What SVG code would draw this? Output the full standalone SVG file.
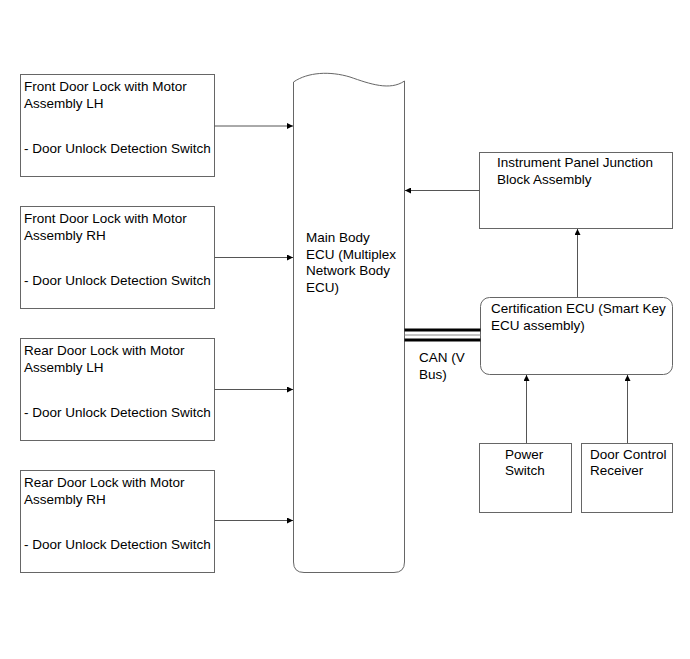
<svg xmlns="http://www.w3.org/2000/svg" width="690" height="659" viewBox="0 0 690 659">
<style>
.box{fill:#fff;stroke:#666;stroke-width:1}
.t{font-family:"Liberation Sans",Arial,sans-serif;font-size:13.5px;fill:#000}
.ln{stroke:#555;stroke-width:1;fill:none}
</style>
<defs>
<marker id="ah" viewBox="0 0 10 10" refX="10" refY="5" markerWidth="9" markerHeight="6" markerUnits="userSpaceOnUse" orient="auto">
<path d="M0,0 L10,5 L0,10 Z" fill="#000"/>
</marker>
</defs>
<rect width="690" height="659" fill="#fff"/>
<g id="front-lh">
<rect class="box" x="20.5" y="74.5" width="194" height="102"/>
<text class="t" x="24" y="90.5">Front Door Lock with Motor</text>
<text class="t" x="24" y="107.5">Assembly LH</text>
<text class="t" x="24" y="153">- Door Unlock Detection Switch</text>
</g>
<g id="front-rh">
<rect class="box" x="20.5" y="206.5" width="194" height="102"/>
<text class="t" x="24" y="222.5">Front Door Lock with Motor</text>
<text class="t" x="24" y="239.5">Assembly RH</text>
<text class="t" x="24" y="285">- Door Unlock Detection Switch</text>
</g>
<g id="rear-lh">
<rect class="box" x="20.5" y="338.5" width="194" height="102"/>
<text class="t" x="24" y="354.5">Rear Door Lock with Motor</text>
<text class="t" x="24" y="371.5">Assembly LH</text>
<text class="t" x="24" y="417">- Door Unlock Detection Switch</text>
</g>
<g id="rear-rh">
<rect class="box" x="20.5" y="470.5" width="194" height="102"/>
<text class="t" x="24" y="486.5">Rear Door Lock with Motor</text>
<text class="t" x="24" y="503.5">Assembly RH</text>
<text class="t" x="24" y="549">- Door Unlock Detection Switch</text>
</g>
<g id="main-ecu">
<path class="box" d="M293.5,82 C308,72 330,71 350,77 C370,84 390,91 404.5,81 L404.5,562 Q404.5,572.5 394,572.5 L304,572.5 Q293.5,572.5 293.5,562 Z"/>
<text class="t" x="306" y="242">Main Body</text>
<text class="t" x="306" y="258.5">ECU (Multiplex</text>
<text class="t" x="306" y="275">Network Body</text>
<text class="t" x="306" y="291.5">ECU)</text>
</g>
<g id="ipjb">
<rect class="box" x="479.5" y="152.5" width="193" height="76"/>
<text class="t" x="497" y="167">Instrument Panel Junction</text>
<text class="t" x="497" y="184">Block Assembly</text>
</g>
<g id="cert-ecu">
<rect class="box" x="480.5" y="297.5" width="192" height="77" rx="9"/>
<text class="t" x="491" y="313">Certification ECU (Smart Key</text>
<text class="t" x="491" y="330">ECU assembly)</text>
</g>
<g id="power-switch">
<rect class="box" x="479.5" y="443.5" width="92" height="69"/>
<text class="t" x="505" y="459">Power</text>
<text class="t" x="505" y="475">Switch</text>
</g>
<g id="door-control">
<rect class="box" x="581.5" y="443.5" width="91" height="69"/>
<text class="t" x="590" y="459">Door Control</text>
<text class="t" x="590" y="475">Receiver</text>
</g>
<g id="connectors">
<line class="ln" x1="214.5" y1="126" x2="293" y2="126" marker-end="url(#ah)"/>
<line class="ln" x1="214.5" y1="257.5" x2="293" y2="257.5" marker-end="url(#ah)"/>
<line class="ln" x1="214.5" y1="389.5" x2="293" y2="389.5" marker-end="url(#ah)"/>
<line class="ln" x1="214.5" y1="520.5" x2="293" y2="520.5" marker-end="url(#ah)"/>
<line class="ln" x1="479.5" y1="190.5" x2="405" y2="190.5" marker-end="url(#ah)"/>
<line class="ln" x1="577.5" y1="297" x2="577.5" y2="229" marker-end="url(#ah)"/>
<line class="ln" x1="526.5" y1="443" x2="526.5" y2="375" marker-end="url(#ah)"/>
<line class="ln" x1="627.5" y1="443" x2="627.5" y2="375" marker-end="url(#ah)"/>
<line x1="404.5" y1="330" x2="480.5" y2="330" stroke="#000" stroke-width="3"/>
<line x1="404.5" y1="335" x2="480.5" y2="335" stroke="#888" stroke-width="1"/>
<line x1="404.5" y1="340" x2="480.5" y2="340" stroke="#000" stroke-width="3"/>
<text class="t" x="419" y="362">CAN (V</text>
<text class="t" x="419" y="379">Bus)</text>
</g>
</svg>
